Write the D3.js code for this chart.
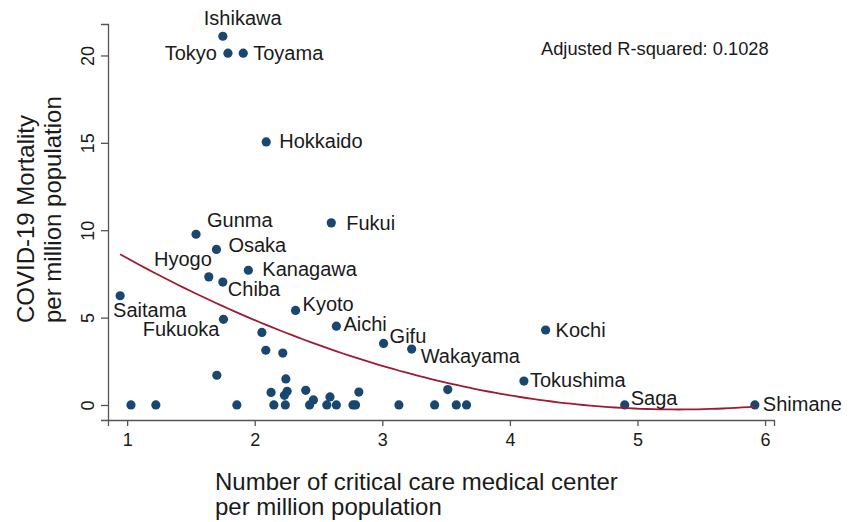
<!DOCTYPE html>
<html>
<head>
<meta charset="utf-8">
<script src="https://cdn.jsdelivr.net/npm/d3@7"></script>
<style>
  body { margin: 0; background: #fff; }
  text { font-family: "Liberation Sans", Arial, sans-serif; fill: #1a1a1a; }
</style>
</head>
<body>
<div id="chart"></div>
<script>
// labeled prefectures
const names = ["Ishikawa", "Tokyo", "Toyama", "Hokkaido", "Fukui", "Gunma", "Osaka", "Kanagawa",
  "Hyogo", "Chiba", "Saitama", "Fukuoka", "Kyoto", "Aichi", "Gifu", "Wakayama", "Kochi",
  "Tokushima", "Saga", "Shimane"];
const centers = [1.75, 1.79, 1.91, 2.09, 2.60, 1.54, 1.70, 1.95, 1.64, 1.75, 0.945, 1.755,
  2.32, 2.64, 3.01, 3.23, 4.28, 4.11, 4.90, 5.92];
const mortality = [21.1, 20.13, 20.13, 15.05, 10.42, 9.77, 8.9, 7.71, 7.33, 7.03, 6.25, 4.9,
  5.41, 4.51, 3.52, 3.2, 4.29, 1.37, 0, 0];

// unlabeled prefectures
const otherCenters = [2.056, 2.087, 2.22, 1.703, 2.244, 2.128, 2.254, 2.233, 2.40, 2.816, 3.513,
  2.46, 2.59, 1.03, 1.225, 1.86, 2.15, 2.24, 2.43, 2.565, 2.64, 2.77, 2.79, 3.13, 3.41, 3.58, 3.66];
const otherMortality = [4.15, 3.13, 2.97, 1.70, 1.49, 0.72, 0.78, 0.55, 0.84, 0.74, 0.88,
  0.29, 0.46, 0, 0, 0, 0, 0, 0, 0, 0, 0, 0, 0, 0, 0, 0];

const xTicks = [1, 2, 3, 4, 5, 6];
const yTicks = [0, 5, 10, 15, 20];
const annotation = "Adjusted R-squared: 0.1028";

const width = 855, height = 522;
const svg = d3.select("#chart").append("svg")
  .attr("width", width)
  .attr("height", height);

const x = d3.scaleLinear().domain([0.85, 6.07]).range([108, 774]);
const y = d3.scaleLinear().domain([-0.86, 21.8]).range([420, 24]);

const points = names.map((n, i) => ({name: n, cx: centers[i], my: mortality[i]}))
  .concat(otherCenters.map((c, i) => ({name: "", cx: c, my: otherMortality[i]})));

// quadratic fit (OLS) like Stata qfit
const fitQuad = pts => {
  let s = [0, 0, 0, 0, 0], t = [0, 0, 0];
  pts.forEach(p => {
    for (let k = 0; k < 5; k++) s[k] += Math.pow(p.cx, k);
    for (let k = 0; k < 3; k++) t[k] += p.my * Math.pow(p.cx, k);
  });
  const M = [[s[0], s[1], s[2], t[0]], [s[1], s[2], s[3], t[1]], [s[2], s[3], s[4], t[2]]];
  for (let i = 0; i < 3; i++) {
    for (let j = i + 1; j < 3; j++) {
      const f = M[j][i] / M[i][i];
      for (let k = i; k < 4; k++) M[j][k] -= f * M[i][k];
    }
  }
  const c = [0, 0, 0];
  for (let i = 2; i >= 0; i--) {
    let v = M[i][3];
    for (let k = i + 1; k < 3; k++) v -= M[i][k] * c[k];
    c[i] = v / M[i][i];
  }
  return c;
};
const coef = fitQuad(points);
const [xmin, xmax] = d3.extent(points, d => d.cx);
const curve = d3.range(0, 101).map(i => {
  const xv = xmin + (xmax - xmin) * i / 100;
  return [xv, coef[0] + coef[1] * xv + coef[2] * xv * xv];
});

// axes
const axisColor = "#555";
const xAxis = svg.append("g")
  .attr("transform", `translate(0,420)`)
  .call(d3.axisBottom(x).tickValues(xTicks).tickFormat(d3.format("d"))
    .tickSizeOuter(0).tickSize(6).tickPadding(7));
xAxis.selectAll("text").style("font-size", "18px").attr("fill", "#1a1a1a");

const yAxis = svg.append("g")
  .attr("transform", `translate(108,0)`)
  .call(d3.axisLeft(y).tickValues(yTicks).tickFormat(d3.format("d"))
    .tickSizeOuter(0).tickSize(7));
yAxis.selectAll(".tick text")
  .style("font-size", "18px")
  .attr("fill", "#1a1a1a")
  .attr("x", null).attr("dy", null)
  .attr("transform", "translate(-14,0) rotate(-90)")
  .attr("text-anchor", "middle");

svg.selectAll(".domain, .tick line").attr("stroke", axisColor).attr("stroke-width", 1.3);

// dots
svg.append("g")
  .selectAll("circle")
  .data(points)
  .join("circle")
  .attr("cx", d => x(d.cx))
  .attr("cy", d => y(d.my))
  .attr("r", 4.6)
  .attr("fill", "#1a476f");

// fitted curve
svg.append("path")
  .datum(curve)
  .attr("fill", "none")
  .attr("stroke", "#9e1b32")
  .attr("stroke-width", 1.8)
  .attr("d", d3.line().x(d => x(d[0])).y(d => y(d[1])));

// label offsets: [dx, dy, anchor]
const labelPos = {
  Ishikawa: [-19, -11, "start"], Tokyo: [-11, 7, "end"], Toyama: [10, 7, "start"],
  Hokkaido: [13, 6, "start"], Fukui: [15, 7, "start"], Gunma: [11, -7, "start"],
  Osaka: [12, 3, "start"], Kanagawa: [14, 6, "start"], Hyogo: [3, -11, "end"],
  Chiba: [5, 14, "start"], Saitama: [-7, 21, "start"], Fukuoka: [-4, 17, "end"],
  Kyoto: [7, 1, "start"], Aichi: [7, 5, "start"], Gifu: [6, 0, "start"],
  Wakayama: [9, 14, "start"], Kochi: [10, 7, "start"], Tokushima: [6, 6, "start"],
  Saga: [6, 0, "start"], Shimane: [8, 6, "start"]
};

svg.append("g")
  .selectAll("text")
  .data(points.filter(d => d.name))
  .join("text")
  .text(d => d.name)
  .attr("x", d => x(d.cx) + labelPos[d.name][0])
  .attr("y", d => y(d.my) + labelPos[d.name][1])
  .attr("text-anchor", d => labelPos[d.name][2])
  .style("font-size", "20px");

svg.append("text")
  .text(annotation)
  .attr("x", 541).attr("y", 55)
  .style("font-size", "18.3px");

// axis titles
const xTitle = svg.append("text").style("font-size", "24px");
xTitle.append("tspan").attr("x", 215).attr("y", 490).text("Number of critical care medical center");
xTitle.append("tspan").attr("x", 215).attr("y", 515).text("per million population");

const yTitle = svg.append("text")
  .attr("transform", "translate(34,323) rotate(-90)")
  .style("font-size", "24px");
yTitle.append("tspan").attr("x", 0).attr("y", 0).text("COVID-19 Mortality");
yTitle.append("tspan").attr("x", 0).attr("y", 27).text("per million population");
</script>
</body>
</html>
